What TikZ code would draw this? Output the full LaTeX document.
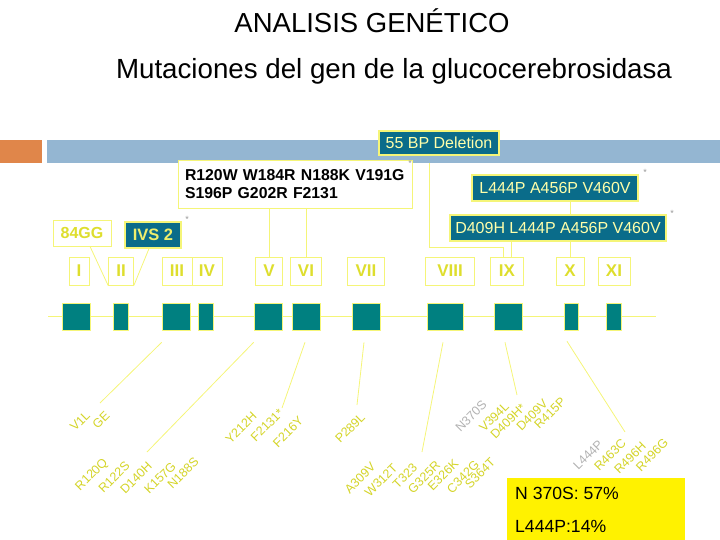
\documentclass[tikz,border=0pt]{standalone}
\usepackage{fontspec}
\setmainfont{Liberation Sans}
\usetikzlibrary{backgrounds}
\definecolor{exteal}{RGB}{0,128,128}
\definecolor{boxteal}{RGB}{10,108,138}
\definecolor{lyel}{RGB}{245,245,120}
\definecolor{tyel}{RGB}{222,222,45}
\definecolor{myel}{RGB}{212,212,40}
\definecolor{ptxt}{RGB}{255,255,170}
\definecolor{orng}{RGB}{224,134,74}
\definecolor{lblue}{RGB}{148,182,210}
\begin{document}
\begin{tikzpicture}[x=1pt,y=-1pt,
  exon/.style={fill=exteal, draw=lyel, line width=0.6pt, minimum height=27pt, inner sep=0pt},
  roman/.style={draw=lyel, fill=white, text=tyel, line width=0.8pt, minimum height=28pt, inner sep=0pt, font=\fontsize{17}{17}\bfseries},
  tealbox/.style={fill=boxteal, draw=lyel, line width=1.2pt, text=ptxt, inner sep=0pt, minimum height=26pt, font=\fontsize{16}{16}\selectfont},
  conn/.style={draw=lyel, line width=0.8pt},
  mut/.style={rotate=45, text=myel, inner sep=0pt, font=\fontsize{12.5}{12.5}\selectfont},
  mutg/.style={mut, text=gray!60},
  star/.style={text=gray!80, inner sep=0pt, font=\fontsize{9}{9}\selectfont}]
\useasboundingbox (0,0) rectangle (720,540);

% titles
\node[font=\fontsize{27.5}{30}\selectfont] (title) at (372,21) {ANALISIS GENÉTICO};
\node[font=\fontsize{27.7}{30}\selectfont] (subtitle) at (394,71) {Mutaciones del gen de la glucocerebrosidasa};
\fill[orng] (0,140) rectangle (42,163);
\fill[lblue] (47,140) rectangle (720,163);

% top boxes
\node[tealbox, minimum width=120pt, minimum height=24pt] (del55) at (439,143) {55 BP Deletion};
\node[draw=lyel, fill=white, line width=0.8pt, minimum width=234pt, minimum height=48pt, text width=220pt, align=left, inner sep=0pt, font=\fontsize{15.8}{18}\bfseries] (mutA) at (295,184) {R120W W184R N188K V191G\\S196P G202R F2131};
\node[tealbox, minimum width=166pt] (l444) at (555,188) {L444P A456P V460V};
\node[tealbox, minimum width=216pt] (d409) at (558,228) {D409H L444P A456P V460V};
\node[draw=lyel, fill=white, line width=0.8pt, text=tyel, minimum width=58pt, minimum height=26pt, inner sep=0pt, font=\fontsize{16}{16}\bfseries] (g84) at (82,233) {84GG};
\node[tealbox, minimum width=56pt, text=tyel!50!ptxt, font=\fontsize{16.5}{16.5}\bfseries] (ivs) at (153,235) {IVS 2};

\node[star] (s1) at (410,163) {*};
\node[star] (s2) at (645,172) {*};
\node[star] (s3) at (672,213) {*};
\node[star] (s4) at (187,219) {*};

% roman labels
\node[roman, minimum width=20pt] (rI) at (79,271) {I};
\node[roman, minimum width=25pt] (rII) at (121,271) {II};
\node[roman, minimum width=30pt] (rIII) at (177,271) {III};
\node[roman, minimum width=30pt] (rIV) at (207,271) {IV};
\node[roman, minimum width=27pt] (rV) at (269,271) {V};
\node[roman, minimum width=31pt] (rVI) at (306,271) {VI};
\node[roman, minimum width=37pt] (rVII) at (366,271) {VII};
\node[roman, minimum width=49pt] (rVIII) at (450,271) {VIII};
\node[roman, minimum width=33pt] (rIX) at (507,271) {IX};
\node[roman, minimum width=28pt] (rX) at (570,271) {X};
\node[roman, minimum width=32pt] (rXI) at (614,271) {XI};

% exons
\coordinate (bbL) at (48,316);
\coordinate (bbR) at (656,316);
\node[exon, minimum width=28pt] (exI) at (76,316.5) {};
\node[exon, minimum width=15pt] (exII) at (120.5,316.5) {};
\node[exon, minimum width=28pt] (exIII) at (176,316.5) {};
\node[exon, minimum width=15pt] (exIV) at (205.5,316.5) {};
\node[exon, minimum width=28pt] (exV) at (268,316.5) {};
\node[exon, minimum width=28pt] (exVI) at (306,316.5) {};
\node[exon, minimum width=28pt] (exVII) at (366,316.5) {};
\node[exon, minimum width=36pt] (exVIII) at (445,316.5) {};
\node[exon, minimum width=28pt] (exIX) at (508,316.5) {};
\node[exon, minimum width=14pt] (exX) at (571,316.5) {};
\node[exon, minimum width=15pt] (exXI) at (613.5,316.5) {};

% mutation labels
\node[mut] (mV1L) at (80,421) {V1L};
\node[mut] (mGE) at (101,420) {GE};
\node[mut] (mR120Q) at (92,475) {R120Q};
\node[mut] (mR122S) at (114,477) {R122S};
\node[mut] (mD140H) at (136,478) {D140H};
\node[mut] (mK157G) at (160,478) {K157G};
\node[mut] (mN188S) at (183,473) {N188S};
\node[mut] (mY212H) at (241,428) {Y212H};
\node[mut] (mF2131) at (267,425) {F2131*};
\node[mut] (mF216Y) at (288,432) {F216Y};
\node[mut] (mP289L) at (350,428) {P289L};
\node[mut] (mA309V) at (360,478) {A309V};
\node[mut] (mW312T) at (381,480) {W312T};
\node[mut] (mT323) at (405,476) {T323};
\node[mut] (mG325R) at (424,477) {G325R};
\node[mut] (mE326K) at (443,475) {E326K};
\node[mut] (mC342G) at (463,477) {C342G};
\node[mut] (mS364T) at (480,473) {S364T};
\node[mutg] (mN370S) at (471,416) {N370S};
\node[mut] (mV394L) at (494,417) {V394L};
\node[mut] (mD409H) at (508,421) {D409H*};
\node[mut] (mD409V) at (532,415) {D409V};
\node[mut] (mR415P) at (550,413) {R415P};
\node[mutg] (mL444P) at (588,455) {L444P};
\node[mut] (mR463C) at (610,455) {R463C};
\node[mut] (mR496H) at (630,458) {R496H};
\node[mut] (mR496G) at (652,455) {R496G};

% frequency box
\node[fill=yellow, minimum width=178pt, minimum height=62pt, inner sep=0pt] (freq) at (596,509) {};
\node[anchor=west, align=left, inner sep=0pt, font=\fontsize{17.6}{17.6}\selectfont] (freqtxt) at (515,510) {N 370S: 57\%\\[15pt]L444P:14\%};

% end points of exon connectors
\coordinate (t1) at (100,403);
\coordinate (t2) at (147,452);
\coordinate (t3) at (282,408);
\coordinate (t4) at (357,405);
\coordinate (t5) at (422,452);
\coordinate (t6) at (517,395);
\coordinate (t7) at (625,432);

\begin{pgfonlayer}{background}
\draw[conn] (bbL) -- (bbR);
\draw[conn] ([xshift=-10pt]del55.south) |- ([xshift=-4pt,yshift=9pt]rIX.north) -- ([xshift=-4pt]rIX.north);
\draw[conn] (rV.north |- mutA.south) -- (rV.north);
\draw[conn] (rVI.north |- mutA.south) -- (rVI.north);
\draw[conn] (rX.north |- l444.south) -- (rX.north);
\draw[conn] ([xshift=4pt]rIX.north |- d409.south) -- ([xshift=4pt]rIX.north);
\draw[conn] ([xshift=8pt]g84.south) -- (rII.south west);
\draw[conn] ([xshift=-4pt]ivs.south) -- (rII.south east);
\draw[conn] ([yshift=-12pt]exIII.south west) -- (t1);
\draw[conn] ([yshift=-12pt]exV.south west) -- (t2);
\draw[conn] ([xshift=-1pt,yshift=-12pt]exVI.south) -- (t3);
\draw[conn] ([xshift=-2pt,yshift=-12pt]exVII.south) -- (t4);
\draw[conn] ([xshift=-2pt,yshift=-12pt]exVIII.south) -- (t5);
\draw[conn] ([xshift=-3pt,yshift=-12pt]exIX.south) -- (t6);
\draw[conn] ([xshift=-4pt,yshift=-11pt]exX.south) -- (t7);
\end{pgfonlayer}
\end{tikzpicture}
\end{document}
